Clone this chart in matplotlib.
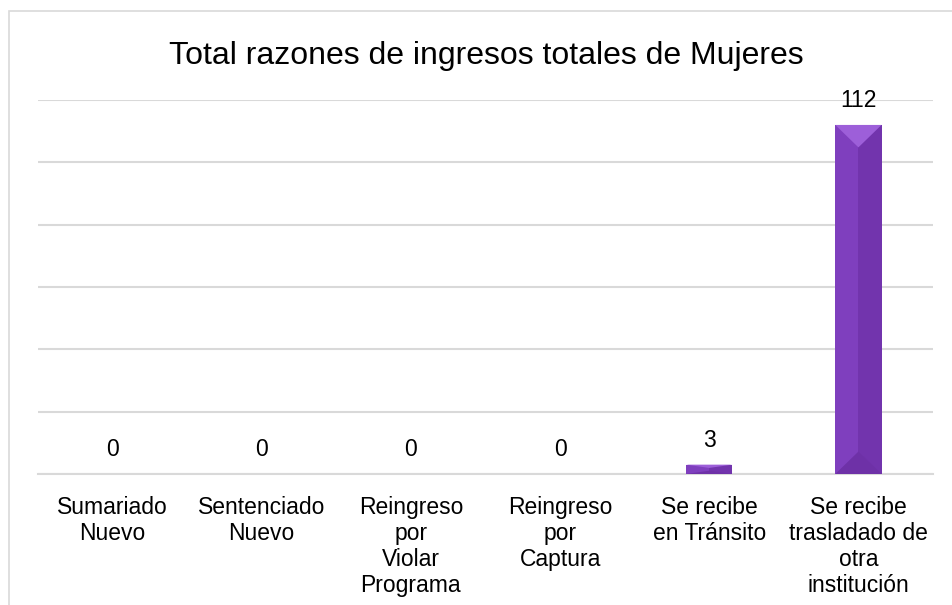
import numpy as np
import matplotlib.pyplot as plt
from matplotlib.patches import Rectangle, Polygon

plt.rcParams['font.family'] = ['Liberation Sans', 'DejaVu Sans']

categorias = ["Sumariado\nNuevo", "Sentenciado\nNuevo", "Reingreso\npor\nViolar\nPrograma",
              "Reingreso\npor\nCaptura", "Se recibe\nen Tránsito",
              "Se recibe\ntrasladado de\notra\ninstitución"]
valores = [0, 0, 0, 0, 3, 112]
titulo = "Total razones de ingresos totales de Mujeres"

color_claro = "#7F3FBE"
color_oscuro = "#7234AD"
color_bisel = "#9D5FD9"
color_sombra = "#6E31A7"
gris = "#D9D9D9"

fig = plt.figure(figsize=(9.52, 6.05), dpi=100)
# marco del gráfico (recortado a la derecha y abajo)
fig.patches.append(Rectangle((9 / 952, -0.05), 1.2, 1 - 11 / 605 + 0.05,
                             transform=fig.transFigure, fill=False,
                             edgecolor=gris, linewidth=1.2))

ax = fig.add_axes([38 / 952, 1 - 474 / 605, (933 - 38) / 952, 374 / 605])
x = np.arange(len(valores))
ancho = 0.31

# barra: mitad izquierda clara, mitad derecha oscura
ax.bar(x - ancho / 2, valores, width=ancho / 2, align='edge', color=color_claro, zorder=3)
ax.bar(x, valores, width=ancho / 2, align='edge', color=color_oscuro, zorder=3)

# bisel superior (triangulo) y sombra inferior
for xi, v in zip(x, valores):
    if v <= 0:
        continue
    b = min(7.2, v * 0.35)  # alto del bisel en unidades de datos
    ax.add_patch(Polygon([[xi - ancho / 2, v], [xi + ancho / 2, v], [xi, v - b]],
                         closed=True, facecolor=color_bisel, edgecolor='none', zorder=4))
    ax.add_patch(Polygon([[xi, b], [xi + ancho / 2, 0], [xi - ancho / 2, 0]],
                         closed=True, facecolor=color_sombra, edgecolor='none', zorder=3.5))

for xi, v in zip(x, valores):
    ax.annotate(str(v), (xi, v), xytext=(0, 9), textcoords='offset points',
                ha='center', va='bottom', fontsize=16.5, color='#000000')

ax.set_xlim(-0.5, len(valores) - 0.5)
ax.set_ylim(0, 120)
ax.set_yticks(np.arange(0, 121, 20))
ax.yaxis.grid(True, color=gris, linewidth=1.5, zorder=0)
ax.set_axisbelow(True)
ax.tick_params(axis='y', left=False, labelleft=False)
ax.tick_params(axis='x', bottom=False, pad=12)
ax.set_xticks(x)
ax.set_xticklabels(categorias, fontsize=16.5, linespacing=1.17, multialignment='center')
for s in ['left', 'right', 'top']:
    ax.spines[s].set_visible(False)
ax.spines['bottom'].set_color(gris)
ax.spines['bottom'].set_linewidth(1.5)

fig.text(486 / 952, 1 - 56 / 605, titulo, ha='center', va='center', fontsize=23)

fig.savefig("out.png", dpi=100)
